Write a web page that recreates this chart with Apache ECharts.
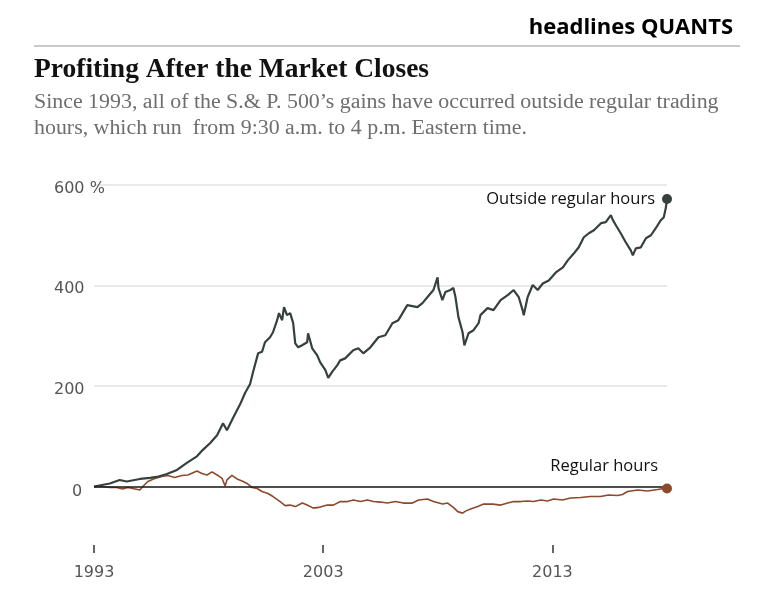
<!DOCTYPE html>
<html>
<head>
<meta charset="utf-8">
<script src="https://cdn.jsdelivr.net/npm/echarts@6/dist/echarts.min.js"></script>
<style>html,body{margin:0;padding:0;background:#fff;}#c{width:758px;height:609px;}</style>
</head>
<body>
<div id="c"></div>
<script>
const xTickYears = [1993, 2003, 2013];
const yTickValues = [0, 200, 400, 600];

const outsideYears = [1993.00,1993.69,1994.12,1994.43,1995.00,1995.44,1995.74,1996.18,1996.62,1997.05,
1997.49,1997.75,1998.06,1998.37,1998.63,1998.80,1999.07,1999.38,1999.59,1999.81,
1999.94,2000.16,2000.33,2000.46,2000.68,2000.81,2000.99,2001.07,2001.21,2001.29,
2001.42,2001.56,2001.69,2001.78,2001.91,2002.08,2002.30,2002.34,2002.52,2002.74,
2002.87,2003.09,2003.22,2003.39,2003.61,2003.74,2003.96,2004.31,2004.53,2004.75,
2005.06,2005.41,2005.71,2006.02,2006.28,2006.67,2007.11,2007.33,2007.68,2007.81,
2007.99,2008.03,2008.20,2008.33,2008.55,2008.68,2008.77,2008.90,2009.08,2009.16,
2009.34,2009.56,2009.78,2009.86,2010.17,2010.43,2010.74,2011.05,2011.31,2011.53,
2011.70,2011.75,2011.92,2012.14,2012.36,2012.58,2012.84,2013.15,2013.46,2013.67,
2013.94,2014.15,2014.37,2014.59,2014.81,2015.12,2015.33,2015.55,2015.64,2015.77,
2015.98,2016.20,2016.42,2016.51,2016.64,2016.86,2017.08,2017.30,2017.51,2017.73,
2017.86,2017.95,2018.00];
const outsideValues = [0,6,13,10,15,17,19,25,33,47,
60,73,86,102,126,112,137,164,186,204,
228,265,268,287,297,307,331,345,331,357,
341,345,325,285,277,281,287,305,275,261,
247,232,216,228,241,251,255,271,275,265,
277,297,301,325,331,361,357,365,384,391,
416,395,371,387,391,395,377,337,307,281,
305,311,325,341,355,351,371,381,391,377,
351,341,377,401,391,404,410,426,436,450,
464,476,496,504,510,524,526,540,530,520,
504,486,470,460,474,476,494,500,514,530,
536,555,572];

const regularYears = [1993.00,1993.38,1993.69,1993.99,1994.25,1994.47,1994.69,1995.00,1995.13,1995.35,
1995.65,1995.96,1996.22,1996.53,1996.83,1997.10,1997.49,1997.71,1997.93,1998.15,
1998.37,1998.59,1998.72,1998.80,1999.02,1999.24,1999.46,1999.68,1999.90,2000.12,
2000.33,2000.59,2000.81,2001.12,2001.34,2001.56,2001.78,2002.09,2002.30,2002.57,
2002.87,2003.18,2003.44,2003.75,2004.06,2004.32,2004.62,2004.93,2005.19,2005.49,
2005.80,2006.15,2006.50,2006.89,2007.16,2007.55,2007.81,2008.21,2008.43,2008.69,
2008.87,2009.08,2009.21,2009.43,2009.74,2010.00,2010.40,2010.75,2011.05,2011.31,
2011.62,2011.92,2012.18,2012.49,2012.79,2013.05,2013.44,2013.79,2014.23,2014.66,
2015.10,2015.45,2015.84,2016.06,2016.28,2016.72,2017.15,2017.59,2017.85,2018.00];
const regularValues = [0,0,-2,-2,-5,-2,-4,-7,0,10,
16,20,22,18,22,23,31,26,23,29,
23,16,1,13,22,15,11,6,-2,-4,
-10,-14,-20,-30,-38,-37,-40,-33,-37,-43,
-41,-37,-37,-30,-30,-27,-30,-27,-30,-31,
-33,-30,-33,-33,-27,-25,-30,-35,-33,-42,
-50,-53,-49,-45,-40,-35,-35,-37,-33,-30,
-30,-29,-30,-27,-29,-25,-27,-23,-22,-20,
-20,-17,-18,-16,-10,-7,-9,-6,-4,-4];

const outsideName = 'Outside regular hours';
const regularName = 'Regular hours';

const outsideColor = '#35413a';
const regularColor = '#8b4a2c';

function pairs(xs, ys) { return xs.map((x, i) => [x, ys[i]]); }
const oLast = outsideYears.length - 1;
const rLast = regularYears.length - 1;

const chart = echarts.init(document.getElementById('c'), null, {renderer: 'canvas'});
chart.setOption({
  animation: false,
  backgroundColor: '#fff',
  title: [
    {text: 'headlines QUANTS', right: 25, top: 17, padding: 0,
     textStyle: {fontFamily: 'Open Sans', fontWeight: 700, fontSize: 22, color: '#000'}},
    {text: 'Profiting After the Market Closes', left: 34, top: 56, padding: 0,
     textStyle: {fontFamily: 'Liberation Serif', fontWeight: 'bold', fontSize: 27.5, color: '#121212'}},
    {text: 'Since 1993, all of the S.& P. 500\u2019s gains have occurred outside regular trading\nhours, which run  from 9:30 a.m. to 4 p.m. Eastern time.',
     left: 34, top: 89, padding: 0,
     textStyle: {fontFamily: 'Liberation Serif', fontWeight: 'normal', fontSize: 21.9, lineHeight: 26, color: '#6e6e6e'}}
  ],
  graphic: [
    {type: 'line', shape: {x1: 34, y1: 46, x2: 740, y2: 46}, style: {stroke: '#c9c9c9', lineWidth: 2}}
  ],
  grid: {left: 94, right: 91, top: 185, height: 402, containLabel: false},
  xAxis: {
    type: 'value', min: 1993, max: 2018, offset: -42,
    axisLine: {show: false, onZero: false},
    splitLine: {show: false},
    axisTick: {show: true, length: 8, customValues: xTickYears, lineStyle: {color: '#333', width: 1.5}},
    axisLabel: {customValues: xTickYears, margin: 20, fontFamily: 'DejaVu Sans', fontSize: 16, color: '#555',
      formatter: v => String(v)}
  },
  yAxis: {
    type: 'value', min: -200, max: 600, interval: 200,
    axisLine: {show: false}, axisTick: {show: false},
    splitLine: {show: true, showMinLine: false, lineStyle: {color: '#e2e2e2', width: 1.5}},
    axisLabel: {
      align: 'left', margin: 40, fontFamily: 'DejaVu Sans', fontSize: 16, color: '#555',
      formatter: v => v < 0 ? '' : (v === 600 ? '{a|600 %}' : (v === 0 ? '{z|0}' : '{a|' + v + '}')),
      rich: {
        a: {fontFamily: 'DejaVu Sans', fontSize: 16, color: '#555', padding: [7, 0, 0, 0]},
        z: {fontFamily: 'DejaVu Sans', fontSize: 16, color: '#555', padding: [10, 0, 0, 18]}
      }
    }
  },
  series: [
    {
      type: 'line', name: regularName, data: pairs(regularYears, regularValues),
      showSymbol: false, z: 3,
      lineStyle: {color: regularColor, width: 1.6}, itemStyle: {color: regularColor},
      markLine: {
        silent: true, symbol: 'none', label: {show: false},
        lineStyle: {color: '#1a1a1a', width: 1.6, type: 'solid'},
        data: [{yAxis: 0}]
      },
      markPoint: {
        silent: true,
        data: [{coord: [regularYears[rLast], regularValues[rLast]], symbol: 'circle', symbolSize: 10,
          itemStyle: {color: regularColor},
          label: {show: true, formatter: regularName, position: 'left', distance: 4, offset: [0, -22],
            fontFamily: 'Open Sans', fontSize: 16.5, color: '#111'}}]
      }
    },
    {
      type: 'line', name: outsideName, data: pairs(outsideYears, outsideValues),
      showSymbol: false, z: 4,
      lineStyle: {color: outsideColor, width: 2.2}, itemStyle: {color: outsideColor},
      markPoint: {
        silent: true,
        data: [{coord: [outsideYears[oLast], outsideValues[oLast]], symbol: 'circle', symbolSize: 10,
          itemStyle: {color: outsideColor},
          label: {show: true, formatter: outsideName, position: 'left', distance: 7,
            fontFamily: 'Open Sans', fontSize: 16.5, color: '#111'}}]
      }
    }
  ]
});
</script>
</body>
</html>
